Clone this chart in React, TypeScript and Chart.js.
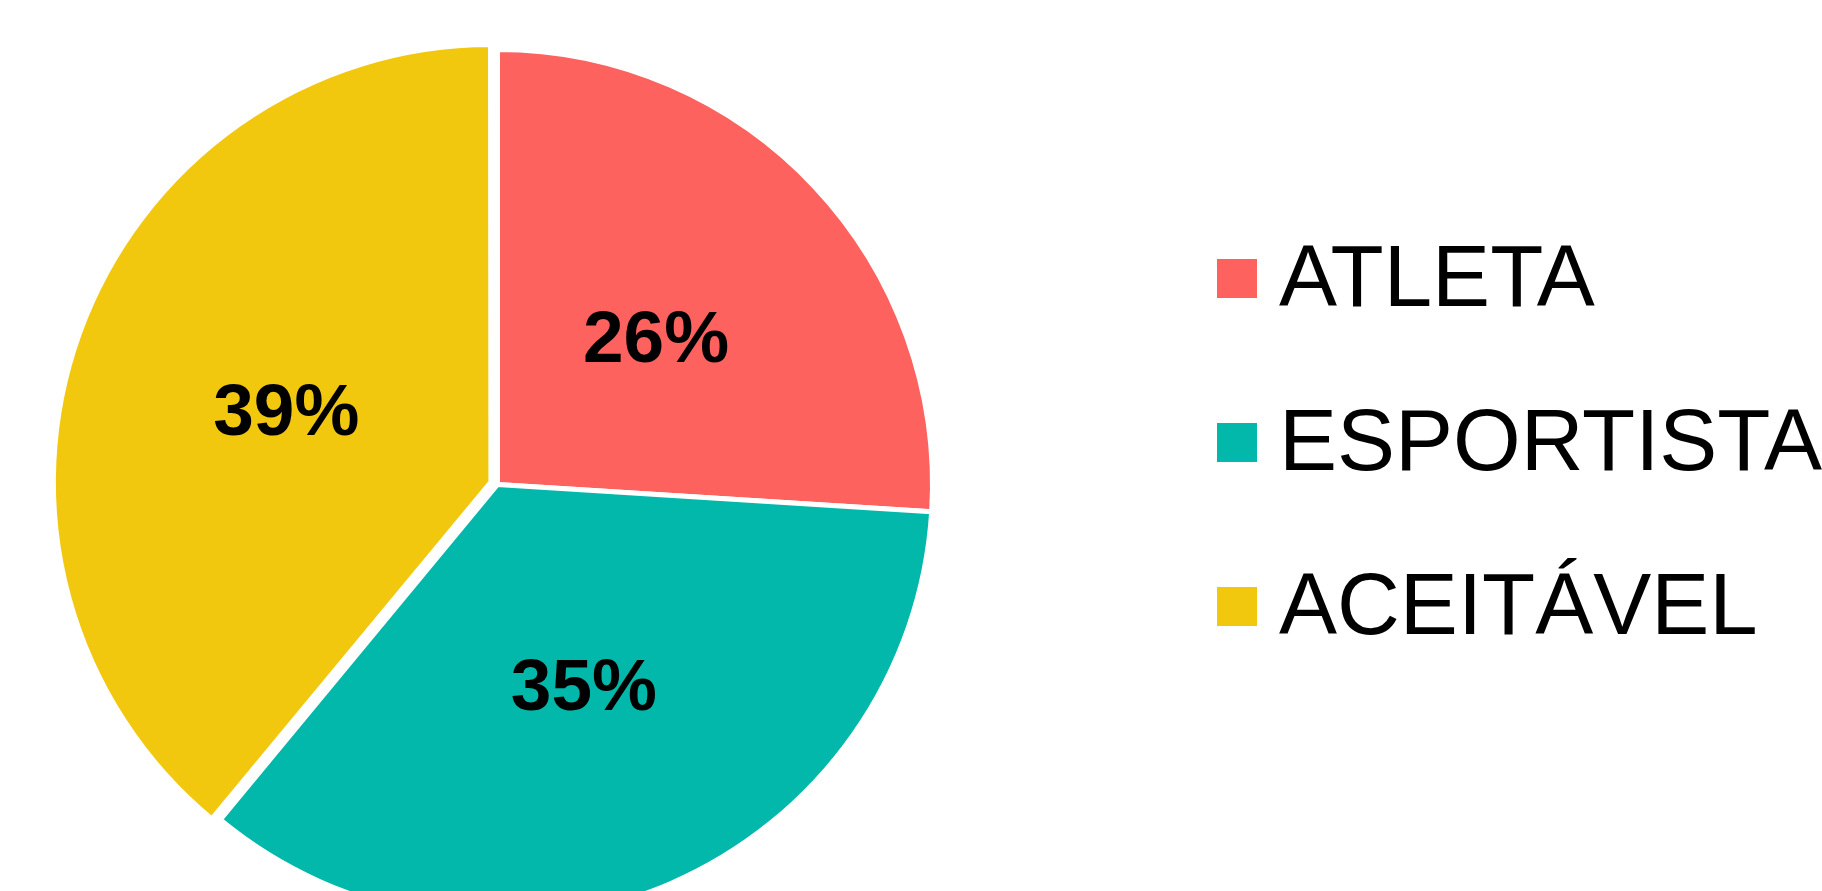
import React, { useEffect, useRef } from "react";
import { Chart, registerables } from "chart.js";

Chart.register(...registerables);

const categories = ["ATLETA", "ESPORTISTA", "ACEITÁVEL"];
const values = [26, 35, 39];
const percentLabels = ["26%", "35%", "39%"];
const colors = ["#FD625E", "#01B8AA", "#F2C80F"];
const sliceOffsets = [0, 0, 28];

const FONT = "'Liberation Sans', Arial, sans-serif";

export default function App() {
  const ref = useRef<HTMLCanvasElement>(null);

  useEffect(() => {
    const canvas = ref.current;
    if (!canvas) return;

    const sliceLabels = {
      id: "sliceLabels",
      afterDatasetsDraw(chart: any) {
        const ctx = chart.ctx;
        const meta = chart.getDatasetMeta(0);
        const size = 73;
        ctx.save();
        ctx.font = `bold ${size}px ${FONT}`;
        ctx.fillStyle = "#000000";
        ctx.textAlign = "center";
        ctx.textBaseline = "alphabetic";
        meta.data.forEach((arc: any, i: number) => {
          const p = arc.getProps(
            ["x", "y", "startAngle", "endAngle", "outerRadius", "innerRadius"],
            true
          );
          const mid = (p.startAngle + p.endAngle) / 2;
          // Chart.js v4 translates an offset arc by offset / 4
          const r = (p.outerRadius + p.innerRadius) / 2 + sliceOffsets[i] / 4;
          const x = p.x + Math.cos(mid) * r;
          const y = p.y + Math.sin(mid) * r;
          ctx.fillText(percentLabels[i], x, y + (0.716 * size) / 2);
        });
        ctx.restore();
      },
    };

    const sideLegend = {
      id: "sideLegend",
      afterDraw(chart: any) {
        const ctx = chart.ctx;
        const size = 87;
        const boxLeft = 1217;
        const firstBaseline = 306;
        const rowGap = 164;
        ctx.save();
        ctx.font = `${size}px ${FONT}`;
        ctx.textAlign = "left";
        ctx.textBaseline = "alphabetic";
        categories.forEach((label, i) => {
          const baseline = firstBaseline + i * rowGap;
          ctx.fillStyle = colors[i];
          ctx.fillRect(boxLeft, baseline - 47, 40, 39);
          ctx.fillStyle = "#000000";
          ctx.fillText(label, boxLeft + 62, baseline);
        });
        ctx.restore();
      },
    };

    const chart = new Chart(canvas, {
      type: "pie",
      data: {
        labels: categories,
        datasets: [
          {
            data: values,
            backgroundColor: colors,
            borderColor: "#ffffff",
            borderWidth: 5,
            offset: sliceOffsets,
            radius: 435,
            clip: false,
          } as any,
        ],
      },
      options: {
        responsive: false,
        animation: false,
        layout: { padding: { left: 0, right: 827, top: 78, bottom: 0 } },
        plugins: {
          legend: { display: false },
          tooltip: { enabled: false },
        },
      },
      plugins: [sliceLabels, sideLegend],
    });

    return () => chart.destroy();
  }, []);

  return (
    <div
      style={{
        position: "fixed",
        left: 0,
        top: 0,
        width: 1822,
        height: 891,
        overflow: "hidden",
        background: "#ffffff",
      }}
    >
      <canvas ref={ref} width={1822} height={891} style={{ display: "block" }} />
    </div>
  );
}
